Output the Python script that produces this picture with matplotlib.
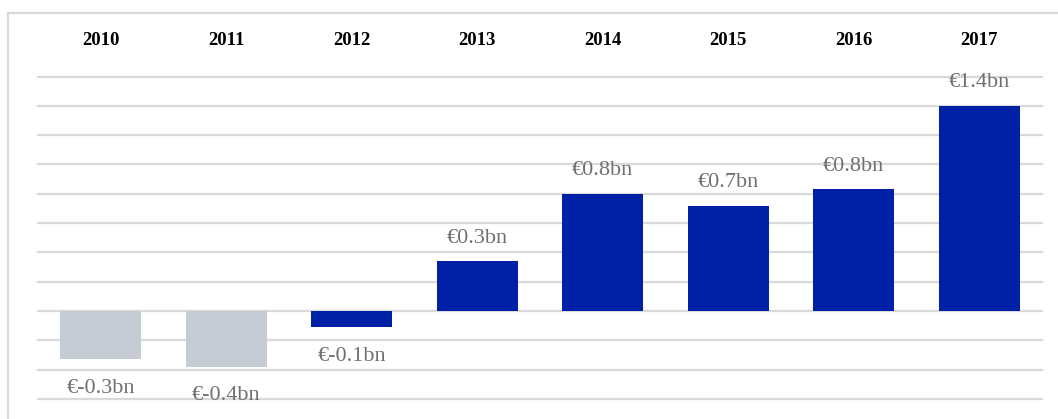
import numpy as np
import matplotlib
matplotlib.use("Agg")
import matplotlib.pyplot as plt
from matplotlib.patches import Rectangle

# data
years = ["2010", "2011", "2012", "2013", "2014", "2015", "2016", "2017"]
values = [-0.33, -0.38, -0.11, 0.34, 0.80, 0.72, 0.83, 1.40]
labels = ["€-0.3bn", "€-0.4bn", "€-0.1bn", "€0.3bn", "€0.8bn", "€0.7bn", "€0.8bn", "€1.4bn"]
colors = ["#C5CCD3", "#C5CCD3", "#0021A5", "#0021A5", "#0021A5", "#0021A5", "#0021A5", "#0021A5"]

W, H = 1058, 419
fig = plt.figure(figsize=(W / 100, H / 100), dpi=100)

# light frame round the chart (left and top visible)
fig.patches.append(Rectangle((8 / W, -0.2), 1.2, (H - 13) / H + 0.2, transform=fig.transFigure,
                             fill=False, edgecolor="#D9D9D9", linewidth=1.6, zorder=0))

ax = fig.add_axes([38 / W, (H - 413.5) / H, 1004 / W, (413.5 - 76.6) / H])
x = np.arange(len(years))
ax.bar(x, values, width=0.645, color=colors, zorder=3)

ax.set_xlim(-0.5, len(years) - 0.5)
ax.set_ylim(-0.7, 1.6)
ax.set_yticks(np.arange(-0.6, 1.61, 0.2))
ax.grid(axis="y", color="#D9D9D9", linewidth=1.6, zorder=0)
for gl in ax.get_ygridlines():
    gl.set_clip_on(False)
ax.tick_params(left=False, bottom=False, labelleft=False, labelbottom=False)
for s in ax.spines.values():
    s.set_visible(False)

# year labels on top
for i, yr in enumerate(years):
    ax.text(i, 1.108, yr, transform=ax.get_xaxis_transform(), ha="center", va="center",
            fontsize=13.5, fontweight="bold", family="Liberation Serif", color="black")

# value labels
for i, (v, lab) in enumerate(zip(values, labels)):
    off = 16.6 if v >= 0 else -20.9
    ax.annotate(lab, (i, v), xytext=(0, off), textcoords="offset points",
                ha="center", va="center", fontsize=16, family="Liberation Serif", color="#707070")

fig.savefig("out.png", dpi=100)
